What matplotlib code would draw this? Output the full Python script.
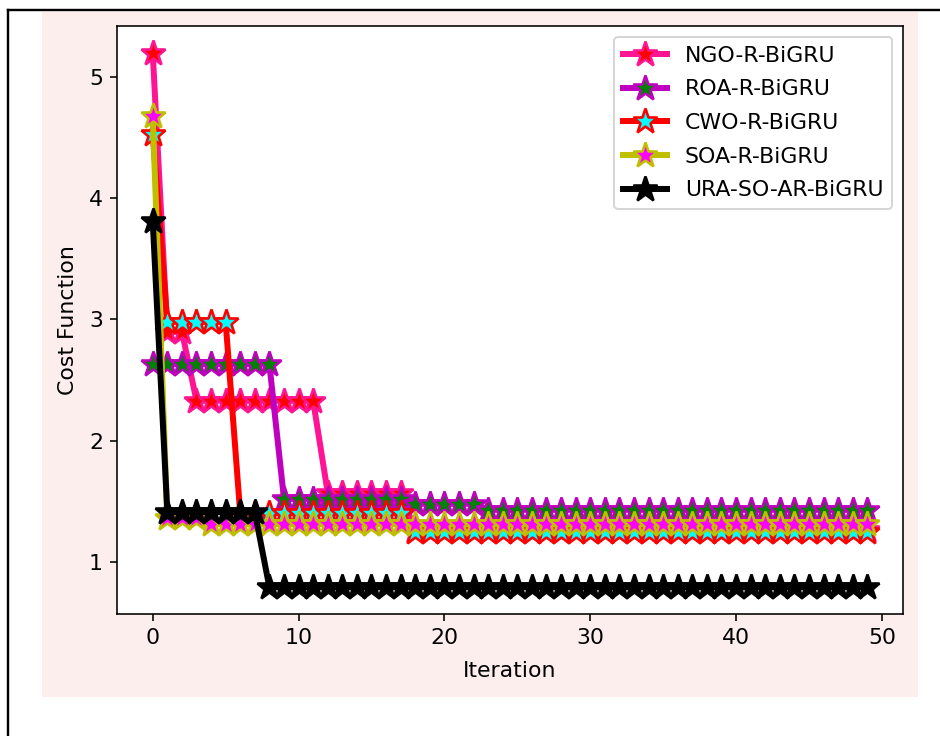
import matplotlib
matplotlib.use("Agg")
import matplotlib.pyplot as plt
from matplotlib.patches import Rectangle
from matplotlib.lines import Line2D
import numpy as np

plt.rcParams["font.size"] = 11

iters = np.arange(50)

ngo = [5.2, 2.9, 2.9,
       2.33, 2.33, 2.33, 2.33, 2.33, 2.33, 2.33, 2.33, 2.33,
       1.57, 1.57, 1.57, 1.57, 1.57, 1.57,
       1.26, 1.26, 1.26, 1.26, 1.26, 1.26, 1.26, 1.26, 1.26, 1.26,
       1.26, 1.26, 1.26, 1.26, 1.26, 1.26, 1.26, 1.26, 1.26, 1.26,
       1.26, 1.26, 1.26, 1.26, 1.26, 1.26, 1.26, 1.26, 1.26, 1.26,
       1.26, 1.26]
roa = [2.63, 2.63, 2.63, 2.63, 2.63, 2.63, 2.63, 2.63, 2.63,
       1.52, 1.52, 1.52, 1.52, 1.52, 1.52, 1.52, 1.52, 1.52,
       1.48, 1.48, 1.48, 1.48, 1.48,
       1.43, 1.43, 1.43, 1.43, 1.43, 1.43, 1.43, 1.43, 1.43, 1.43,
       1.43, 1.43, 1.43, 1.43, 1.43, 1.43, 1.43, 1.43, 1.43, 1.43,
       1.43, 1.43, 1.43, 1.43, 1.43, 1.43, 1.43]
cwo = [4.53, 2.98, 2.98, 2.98, 2.98, 2.98,
       1.40, 1.40, 1.40, 1.40, 1.40, 1.40, 1.40, 1.40, 1.40, 1.40, 1.40, 1.40,
       1.25, 1.25, 1.25, 1.25, 1.25, 1.25, 1.25, 1.25, 1.25, 1.25,
       1.25, 1.25, 1.25, 1.25, 1.25, 1.25, 1.25, 1.25, 1.25, 1.25,
       1.25, 1.25, 1.25, 1.25, 1.25, 1.25, 1.25, 1.25, 1.25, 1.25,
       1.25, 1.25]
soa = [4.68, 1.36, 1.36, 1.36,
       1.31, 1.31, 1.31, 1.31, 1.31, 1.31, 1.31, 1.31, 1.31, 1.31,
       1.31, 1.31, 1.31, 1.31, 1.31, 1.31, 1.31, 1.31, 1.31, 1.31,
       1.31, 1.31, 1.31, 1.31, 1.31, 1.31, 1.31, 1.31, 1.31, 1.31,
       1.31, 1.31, 1.31, 1.31, 1.31, 1.31, 1.31, 1.31, 1.31, 1.31,
       1.31, 1.31, 1.31, 1.31, 1.31, 1.31]
ura = [3.81, 1.41, 1.41, 1.41, 1.41, 1.41, 1.41, 1.41,
       0.79, 0.79, 0.79, 0.79, 0.79, 0.79, 0.79, 0.79, 0.79, 0.79,
       0.79, 0.79, 0.79, 0.79, 0.79, 0.79, 0.79, 0.79, 0.79, 0.79,
       0.79, 0.79, 0.79, 0.79, 0.79, 0.79, 0.79, 0.79, 0.79, 0.79,
       0.79, 0.79, 0.79, 0.79, 0.79, 0.79, 0.79, 0.79, 0.79, 0.79,
       0.79, 0.79]

labels = ["NGO-R-BiGRU", "ROA-R-BiGRU", "CWO-R-BiGRU", "SOA-R-BiGRU", "URA-SO-AR-BiGRU"]
# (line colour, marker face)
styles = [("deeppink", "red"), ("m", "green"), ("red", "cyan"), ("y", "magenta"), ("black", "black")]

fig = plt.figure(figsize=(940 / 144, 736 / 144), dpi=144, facecolor="white")

# pink backdrop and the black border lines of the original screenshot
fig.patches.append(Rectangle((42 / 940, 1 - 697 / 736), (918 - 42) / 940, (697 - 12) / 736,
                             transform=fig.transFigure, facecolor="#fdeeee", edgecolor="none", zorder=-5))
fig.lines.append(Line2D([8 / 940, 1], [1 - 10 / 736, 1 - 10 / 736], transform=fig.transFigure,
                        color="black", lw=1.2, zorder=-5))
fig.lines.append(Line2D([8 / 940, 8 / 940], [0, 1 - 10 / 736], transform=fig.transFigure,
                        color="black", lw=1.2, zorder=-5))

ax = fig.add_axes([117 / 940, 1 - 614 / 736, (903 - 117) / 940, (614 - 26) / 736])
ax.set_facecolor("white")

for vals, lab, (lc, fc) in zip([ngo, roa, cwo, soa, ura], labels, styles):
    ax.plot(iters, vals, color=lc, lw=3, marker="*", markersize=13,
            markerfacecolor=fc, markeredgecolor=lc, markeredgewidth=1.3, label=lab)

ax.set_xlabel("Iteration", labelpad=6.5)
ax.set_ylabel("Cost Function", labelpad=5.5)
ax.set_xticks([0, 10, 20, 30, 40, 50])
ax.set_yticks([1, 2, 3, 4, 5])
ax.legend(loc="upper right", labelspacing=0.62)

fig.savefig("out.png", dpi=144)
